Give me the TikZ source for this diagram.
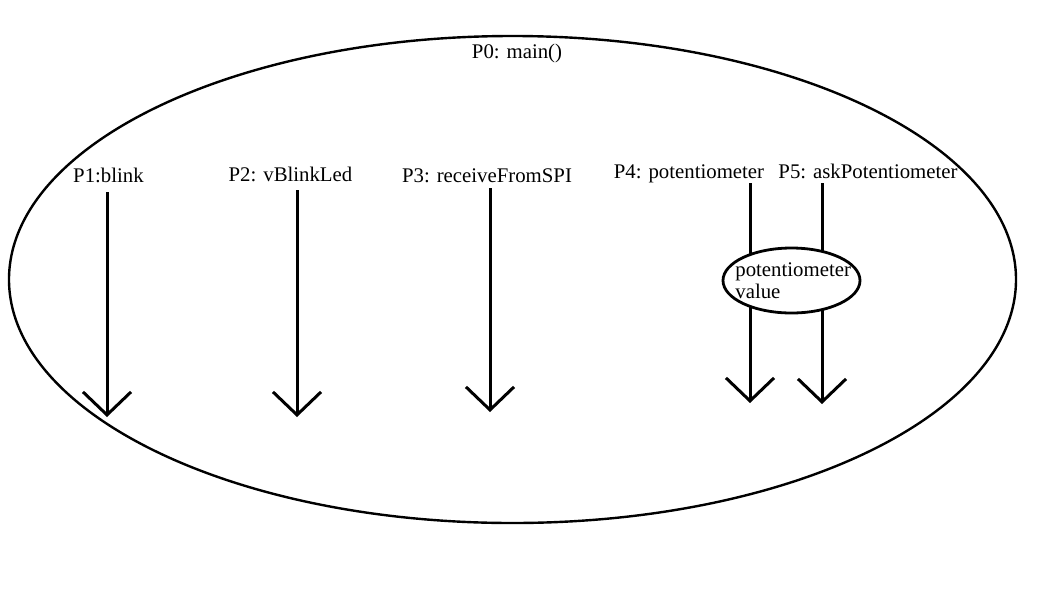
\documentclass[tikz,border=0pt]{standalone}
\usepackage{fontspec}
\setmainfont{Liberation Serif}
\usetikzlibrary{shapes.geometric, arrows.meta}
\tikzstyle{arrow} = [line width=1.5pt, -{Straight Barb[length=11.5pt, width=24pt]}]

\begin{document}
\begin{tikzpicture}[
            x=0.5pt, y=-0.5pt,
            every node/.style={font=\fontsize{10.4}{11}\selectfont},
            outer/.style={ellipse, draw, line width=1.2pt, minimum width=503.5pt, minimum height=243.5pt, inner sep=0pt},
            valuebox/.style={ellipse, draw, fill=white, line width=1.4pt, minimum width=68.5pt, minimum height=32.5pt, inner sep=0pt},
            proc/.style={anchor=base, inner sep=0pt}
        ]
            \useasboundingbox (0,0) rectangle (1054,600);
            % Nodes
            \node (main) [outer] at (512.5,279.5) {};
            \node (p0) [proc] at (517,58) {P0: main()};
            \node (p1) [proc] at (108.5,182) {P1:blink};
            \node (p2) [proc] at (290.5,181) {P2: vBlinkLed};
            \node (p3) [proc] at (487,182) {P3: receiveFromSPI};
            \node (p4) [proc] at (689,178) {P4: potentiometer};
            \node (p5) [proc] at (868,178) {P5: askPotentiometer};

            \coordinate (s1) at (107,192);   \coordinate (e1) at (107,417);
            \coordinate (s2) at (297,190);   \coordinate (e2) at (297,417);
            \coordinate (s3) at (490,188);   \coordinate (e3) at (490,412);
            \coordinate (s4) at (750,183);   \coordinate (e4) at (750,403);
            \coordinate (s5) at (822,183);   \coordinate (e5) at (822,404);

            % Arrows
            \draw [arrow] (s1) -- (e1);
            \draw [arrow] (s2) -- (e2);
            \draw [arrow] (s3) -- (e3);
            \draw [arrow] (s4) -- (e4);
            \draw [arrow] (s5) -- (e5);

            % shared value
            \node (pot) [valuebox] at (791.5,280.5) {};
            \node (potval) [anchor=base west, align=left, inner sep=0pt] at (735,298) {potentiometer\\value};
        \end{tikzpicture}
\end{document}
